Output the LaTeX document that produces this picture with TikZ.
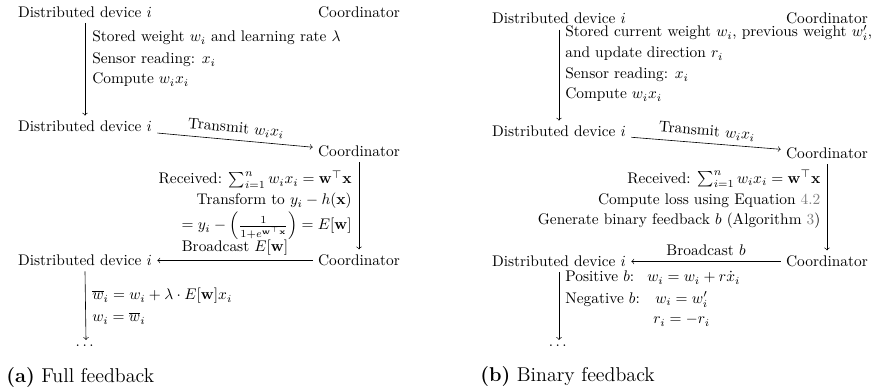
\documentclass[tikz,border=0pt]{standalone}
\usepackage{amsmath}
\usepackage{xcolor}
\begin{document}
\begin{tikzpicture}[x=0.65pt,y=0.65pt,
    party/.style={anchor=base},
    note/.style={anchor=base west,inner sep=0pt},
    noter/.style={anchor=base east,inner sep=0pt},
    capt/.style={anchor=base west,inner sep=0pt,font=\fontsize{13}{15}\selectfont}]
    \useasboundingbox (0,0) rectangle (875,390);

    % (a) Full feedback
    \node[party] (dev1) at (85,372.7) {Distributed device $i$};
    \node[party] (coord1) at (359,372.7) {Coordinator};
    \node[note] (a1) at (92,348.3) {Stored weight $w_i$ and learning rate $\lambda$};
    \node[note] (a2) at (92,326) {Sensor reading: $x_i$};
    \node[note] (a3) at (92,306) {Compute $w_i x_i$};

    \node[party] (dev2) at (85,258.3) {Distributed device $i$};
    \node[party] (coord2) at (359,233.3) {Coordinator};
    \draw[->] (dev1.south) -- (dev2.north);
    \draw[->] (dev2) -- node[midway,above,sloped] {Transmit $w_i x_i$} (coord2);

    \node[noter] (a4) at (352,206) {Received: $\sum_{i=1}^n w_i x_i = \mathbf{w}^\top\mathbf{x}$};
    \node[noter] (a5) at (352,185) {Transform to $y_i - h(\mathbf{x})$};
    \node[noter] (a6) at (352,160) {$= y_i - \left(\frac{1}{1+e^{\mathbf{w}^\top\mathbf{x}}}\right) = E[\mathbf{w}]$};

    \node[party] (dev3) at (85,124.3) {Distributed device $i$};
    \node[party] (coord3) at (359,124.3) {Coordinator};
    \draw[->] (coord2.south) -- (coord3.north);
    \draw[->] (coord3) -- node[midway,above] {Broadcast $E[\mathbf{w}]$} (dev3);

    \node[note] (a7) at (92,90) {$\overline{w}_i = w_i + \lambda\cdot E[\mathbf{w}]x_i$};
    \node[note] (a8) at (92,68.3) {$w_i = \overline{w}_i$};
    \node[party] (dots1) at (86,43) {$\dots$};
    \draw[->] (dev3.south) -- (dots1.north);

    \node[capt] (capa) at (6,7.3) {\textbf{(a)} Full feedback};

    % (b) Binary feedback
    \node[party] (dev5) at (559,366) {Distributed device $i$};
    \node[party] (coord5) at (827,366) {Coordinator};
    \node[note] (b1) at (565,353) {Stored current weight $w_i$, previous weight $w_i'$,};
    \node[note] (b2) at (565,332) {and update direction $r_i$};
    \node[note] (b3) at (565,311) {Sensor reading: $x_i$};
    \node[note] (b4) at (565,291) {Compute $w_i x_i$};

    \node[party] (dev6) at (559,253.3) {Distributed device $i$};
    \node[party] (coord6) at (827,231.7) {Coordinator};
    \draw[->] (dev5.south) -- (dev6.north);
    \draw[->] (dev6) -- node[midway,above,sloped] {Transmit $w_i x_i$} (coord6);

    \node[noter] (b5) at (820.7,206.7) {Received: $\sum_{i=1}^n w_i x_i = \mathbf{w}^\top\mathbf{x}$};
    \node[noter] (b6) at (820.7,185) {Compute loss using Equation \textcolor{gray}{4.2}};
    \node[noter] (b7) at (820.7,165) {Generate binary feedback $b$ (Algorithm \textcolor{gray}{3})};

    \node[party] (dev7) at (559,123.3) {Distributed device $i$};
    \node[party] (coord7) at (827,123.3) {Coordinator};
    \draw[->] (coord6.south) -- (coord7.north);
    \draw[->] (coord7) -- node[midway,above] {Broadcast $b$} (dev7);

    \node[note] (b8) at (565,108.3) {Positive $b$:};
    \node[note] (b8m) at (647,108.3) {$w_i = w_i + r\dot{x}_i$};
    \node[note] (b9) at (565,86.7) {Negative $b$:};
    \node[note] (b9m) at (655,86.7) {$w_i = w_i'$};
    \node[note] (b10m) at (653,66) {$r_i = -r_i$};
    \node[party] (dots2) at (559,43) {$\dots$};
    \draw[->] (dev7.south) -- (dots2.north);

    \node[capt] (capb) at (480,8) {\textbf{(b)} Binary feedback};
\end{tikzpicture}
\end{document}
